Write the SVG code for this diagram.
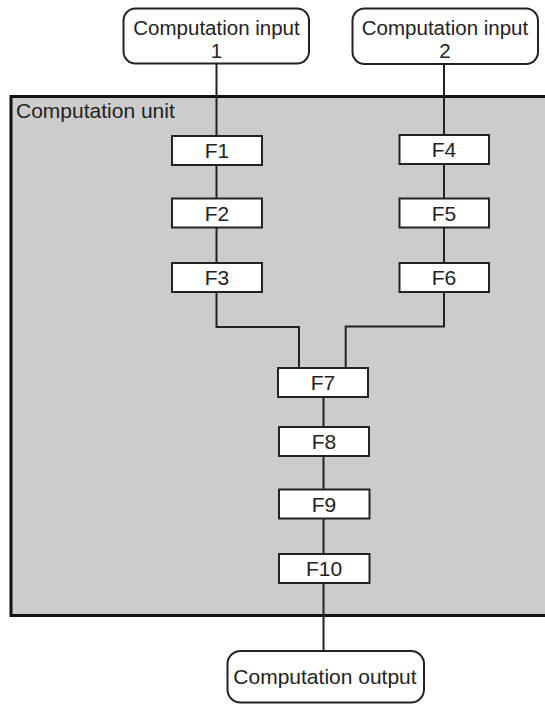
<svg xmlns="http://www.w3.org/2000/svg" width="545" height="704" viewBox="0 0 545 704">
<style>
.term{fill:#fff;stroke:#222;stroke-width:2}
.fn{fill:#fff;stroke:#222;stroke-width:2}
.unit{fill:#cccccc;stroke:#111;stroke-width:3}
.lbl{font-family:"Liberation Sans",Arial,sans-serif;font-size:21px;fill:#222}
.sm{font-size:20.5px}
.c{text-anchor:middle}
.wire{fill:none;stroke:#222;stroke-width:2}
</style>
<rect width="545" height="704" fill="#fff"/>
<g id="computation-unit">
<rect class="unit" x="11" y="96.5" width="545" height="519"/>
<text class="lbl" x="16" y="117.5">Computation unit</text>
</g>
<g id="connectors">
<path class="wire" d="M216.5 63V136"/>
<path class="wire" d="M444 64V135"/>
<path class="wire" d="M216.5 165V198.5M216.5 227.5V263"/>
<path class="wire" d="M444 164V198.5M444 227.5V263"/>
<path class="wire" d="M216.5 292V327H299V368"/>
<path class="wire" d="M444 292V326.5H345.7V368"/>
<path class="wire" d="M323.5 397V427M323.5 456V489.5M323.5 518.5V554M323.5 583V651"/>
</g>
<g id="input1">
<rect class="term" x="123.5" y="8.5" width="185.5" height="55" rx="12"/>
<text class="lbl sm c" x="216.5" y="34.5">Computation input</text>
<text class="lbl sm c" x="216.5" y="58">1</text>
</g>
<g id="input2">
<rect class="term" x="352.5" y="8.5" width="185.5" height="55.5" rx="12"/>
<text class="lbl sm c" x="445" y="34.5">Computation input</text>
<text class="lbl sm c" x="445" y="58">2</text>
</g>
<g id="F1"><rect class="fn" x="172" y="136" width="90" height="29"/><text class="lbl c" x="217" y="158">F1</text></g>
<g id="F2"><rect class="fn" x="172" y="198.5" width="90" height="29"/><text class="lbl c" x="217" y="220.5">F2</text></g>
<g id="F3"><rect class="fn" x="172" y="263" width="90" height="29"/><text class="lbl c" x="217" y="285">F3</text></g>
<g id="F4"><rect class="fn" x="399.5" y="135" width="89.5" height="29"/><text class="lbl c" x="444" y="157">F4</text></g>
<g id="F5"><rect class="fn" x="399.5" y="198.5" width="89.5" height="29"/><text class="lbl c" x="444" y="220.5">F5</text></g>
<g id="F6"><rect class="fn" x="399.5" y="263" width="89.5" height="29"/><text class="lbl c" x="444" y="285">F6</text></g>
<g id="F7"><rect class="fn" x="278" y="368" width="90" height="29"/><text class="lbl c" x="323" y="390">F7</text></g>
<g id="F8"><rect class="fn" x="279" y="427" width="90" height="29"/><text class="lbl c" x="324" y="449">F8</text></g>
<g id="F9"><rect class="fn" x="279" y="489.5" width="90.5" height="29"/><text class="lbl c" x="324" y="511.5">F9</text></g>
<g id="F10"><rect class="fn" x="279" y="554" width="90.5" height="29"/><text class="lbl c" x="324" y="576">F10</text></g>
<g id="output">
<rect class="term" x="227.5" y="651" width="196.5" height="51.5" rx="13"/>
<text class="lbl c" x="325" y="683.5">Computation output</text>
</g>
</svg>
